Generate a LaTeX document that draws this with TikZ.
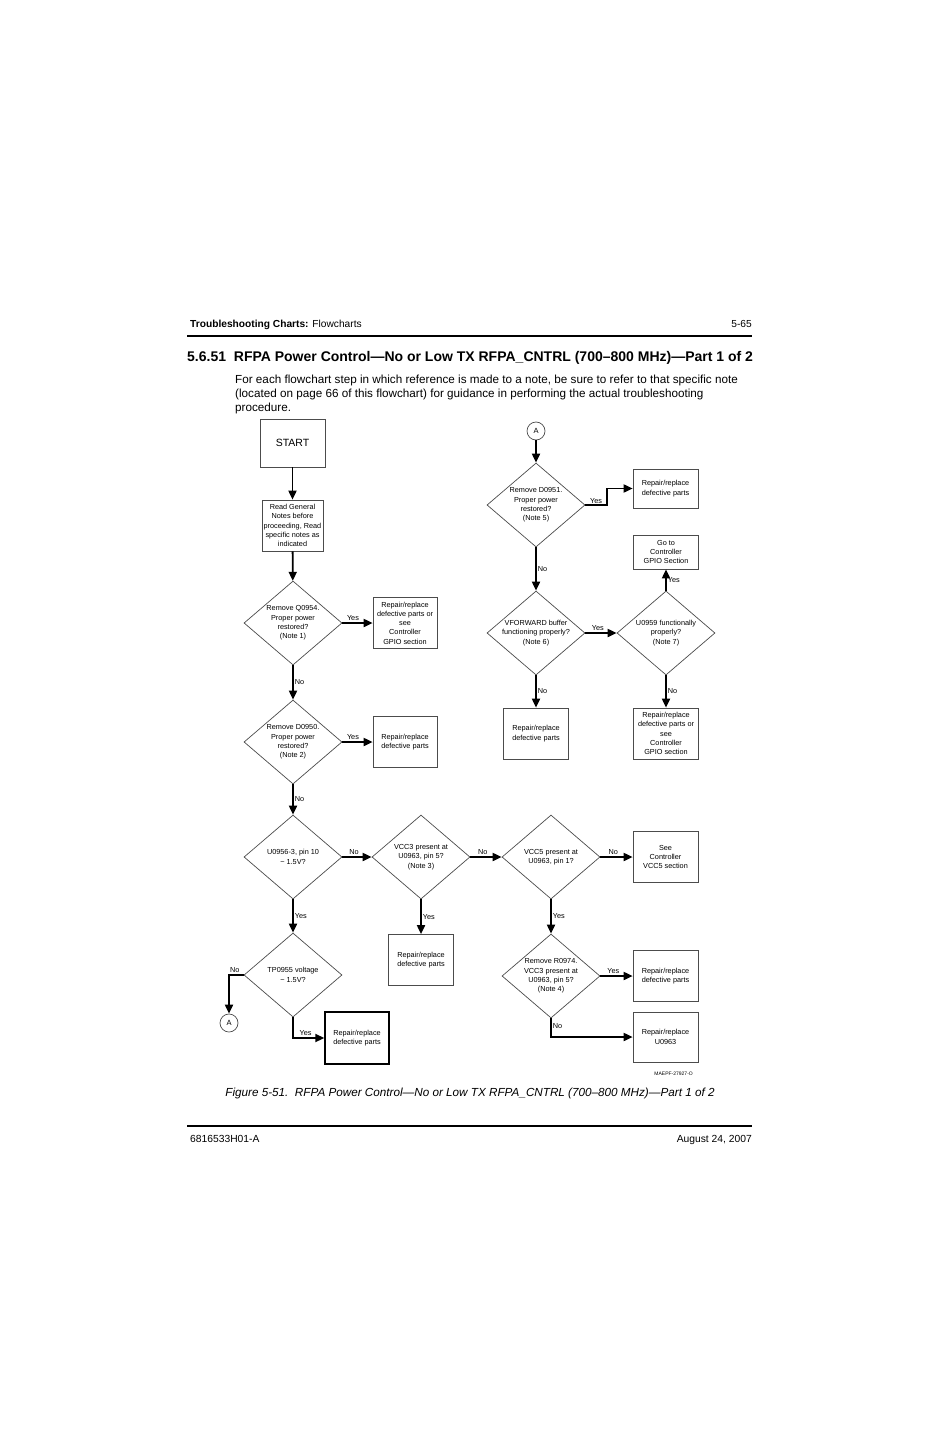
\documentclass[tikz,border=0pt]{standalone}
\usepackage{fontspec}
\setmainfont{Liberation Sans}
\usetikzlibrary{shapes.geometric,arrows.meta}
\begin{document}
\begin{tikzpicture}[x=1pt,y=-1pt,
  box/.style={draw=black!70,line width=0.7pt,fill=white,inner sep=0pt,align=center,
    font=\fontsize{7.3}{9.3}\selectfont,minimum width=65pt,minimum height=51pt},
  dia/.style={diamond,draw=black!70,line width=0.7pt,inner sep=0pt,minimum width=98pt,minimum height=84pt},
  dtext/.style={align=center,inner sep=0pt,font=\fontsize{7.3}{9.3}\selectfont},
  conn/.style={circle,draw=black!70,line width=0.7pt,minimum size=18pt,inner sep=0pt,font=\fontsize{7.5}{9}\selectfont},
  flow/.style={line width=1.8pt,-{Triangle[length=9pt,width=8pt]}},
  lab/.style={font=\fontsize{7.3}{9}\selectfont,inner sep=0pt}]
\useasboundingbox[fill=white] (0,0) rectangle (926,1431);
% header
\node[anchor=base west,inner sep=0pt,font=\fontsize{10.2}{12}\selectfont] (hd) at (190,327) {\textbf{Troubleshooting Charts:} Flowcharts};
\node[anchor=base east,inner sep=0pt,font=\fontsize{10.2}{12}\selectfont] (pg) at (752,327) {5-65};
\draw[line width=1.8pt] (187,336) -- (752,336);
\node[anchor=base west,inner sep=0pt,font=\fontsize{14}{16}\selectfont\bfseries] (title) at (187,361) {5.6.51\ \ RFPA Power Control—No or Low TX RFPA\_CNTRL (700–800 MHz)—Part 1 of 2};
\node[anchor=north west,inner sep=0pt,align=left,font=\fontsize{11.7}{14}\selectfont] (para) at (235,374.5) {For each flowchart step in which reference is made to a note, be sure to refer to that specific note\\(located on page 66 of this flowchart) for guidance in performing the actual troubleshooting\\procedure.};
% left column
\node[box,minimum width=65pt,minimum height=48pt,font=\fontsize{10.5}{12}\selectfont] (start) at (292.5,443) {START};
\node[box,minimum width=61pt,minimum height=51pt] (read) at (292.5,525.5) {Read General\\Notes before\\proceeding, Read\\specific notes as\\indicated};
\node[dia] (d1) at (293,623) {};
\node[dtext] at (d1) {Remove Q0954.\\Proper power\\restored?\\(Note 1)};
\node[box,minimum width=64pt] (b3) at (405,623) {Repair/replace\\defective parts or\\see\\Controller\\GPIO section};
\node[dia] (d2) at (293,742) {};
\node[dtext] at (d2) {Remove D0950.\\Proper power\\restored?\\(Note 2)};
\node[box,minimum width=64pt] (b4) at (405,742) {Repair/replace\\defective parts};
\node[dia] (d3) at (293,857) {};
\node[dtext] at (d3) {U0956-3, pin 10\\\textasciitilde{} 1.5V?};
\node[dia] (d4) at (421,857) {};
\node[dtext] at (d4) {VCC3 present at\\U0963, pin 5?\\(Note 3)};
\node[box] (b5) at (421,960) {Repair/replace\\defective parts};
\node[dia] (d5) at (551,857) {};
\node[dtext] at (d5) {VCC5 present at\\U0963, pin 1?};
\node[box] (b6) at (665.5,857) {See\\Controller\\VCC5 section};
\node[dia] (d6) at (551,976) {};
\node[dtext] at (d6) {Remove R0974.\\VCC3 present at\\U0963, pin 5?\\(Note 4)};
\node[box] (b7) at (665.5,976) {Repair/replace\\defective parts};
\node[box,minimum height=50pt] (b8) at (665.5,1037) {Repair/replace\\U0963};
\node[dia] (d7) at (293,975) {};
\node[dtext] at (d7) {TP0955 voltage\\\textasciitilde{} 1.5V?};
\node[conn] (a1) at (229,1023) {A};
\node[box,draw=black,line width=1.4pt,minimum width=64pt,minimum height=52pt] (b9) at (357,1038) {Repair/replace\\defective parts};
% right column
\node[conn] (a2) at (536,431) {A};
\node[dia] (d8) at (536,505) {};
\node[dtext] at (d8) {Remove D0951.\\Proper power\\restored?\\(Note 5)};
\node[box,minimum height=39pt] (b10) at (665.5,488.5) {Repair/replace\\defective parts};
\node[dia] (d9) at (536,633) {};
\node[dtext] at (d9) {VFORWARD buffer\\functioning properly?\\(Note 6)};
\node[dia] (d10) at (666,633) {};
\node[dtext] at (d10) {U0959 functionally\\properly?\\(Note 7)};
\node[box,minimum height=34pt] (b11) at (666,552) {Go to\\Controller\\GPIO Section};
\node[box] (b12) at (666,733.5) {Repair/replace\\defective parts or\\see\\Controller\\GPIO section};
\node[box] (b13) at (536,733.5) {Repair/replace\\defective parts};
\node[anchor=base east,inner sep=0pt,font=\fontsize{5}{6}\selectfont] (code) at (693,1075) {MAEPF-27927-O};
% connectors
\draw[flow] (start) -- (read);
\draw[flow] (read) -- (d1);
\draw[flow] (d1.east) -- node[lab,above,pos=0.35,yshift=2pt]{Yes} (b3.west);
\draw[flow] (d1.south) -- node[lab,right,xshift=1pt]{No} (d2.north);
\draw[flow] (d2.east) -- node[lab,above,pos=0.35,yshift=2pt]{Yes} (b4.west);
\draw[flow] (d2.south) -- node[lab,right,xshift=1pt]{No} (d3.north);
\draw[flow] (d3.east) -- node[lab,above,pos=0.4,yshift=2pt]{No} (d4.west);
\draw[flow] (d4.east) -- node[lab,above,pos=0.4,yshift=2pt]{No} (d5.west);
\draw[flow] (d5.east) -- node[lab,above,pos=0.4,yshift=2pt]{No} (b6.west);
\draw[flow] (d4.south) -- node[lab,right,xshift=1pt]{Yes} (b5.north);
\draw[flow] (d5.south) -- node[lab,right,xshift=1pt]{Yes} (d6.north);
\draw[flow] (d3.south) -- node[lab,right,xshift=1pt]{Yes} (d7.north);
\draw[flow] (d6.east) -- node[lab,above,pos=0.4,yshift=2pt]{Yes} (b7.west);
\draw[flow] (d6.south) |- node[lab,right,pos=0.2,xshift=1pt]{No} (b8.west);
\draw[flow] (d7.west) -| node[lab,above,pos=0.3,yshift=2pt]{No} (a1.north);
\draw[flow] (d7.south) |- node[lab,above,pos=0.7,yshift=2pt]{Yes} (b9.west);
\coordinate (k1) at (607,505);
\draw[flow] (a2) -- (d8.north);
\draw[flow] (d8.east) -- node[lab,above,yshift=1pt]{Yes} (k1) |- (b10.west);
\draw[flow] (d8.south) -- node[lab,right,xshift=1pt]{No} (d9.north);
\draw[flow] (d9.east) -- node[lab,above,pos=0.4,yshift=2pt]{Yes} (d10.west);
\draw[flow] (d10.north) -- node[lab,right,xshift=1pt]{Yes} (b11.south);
\draw[flow] (d10.south) -- node[lab,right,xshift=1pt]{No} (b12.north);
\draw[flow] (d9.south) -- node[lab,right,xshift=1pt]{No} (b13.north);
% caption & footer
\node[anchor=base,inner sep=0pt,font=\fontsize{11.7}{13}\selectfont\itshape] (cap) at (470,1096) {Figure 5-51.\ \ RFPA Power Control—No or Low TX RFPA\_CNTRL (700–800 MHz)—Part 1 of 2};
\draw[line width=1.8pt] (187,1126) -- (752,1126);
\node[anchor=base west,inner sep=0pt,font=\fontsize{10.3}{12}\selectfont] (f1) at (190,1142) {6816533H01-A};
\node[anchor=base east,inner sep=0pt,font=\fontsize{10.3}{12}\selectfont] (f2) at (752,1142) {August 24, 2007};
\end{tikzpicture}
\end{document}
